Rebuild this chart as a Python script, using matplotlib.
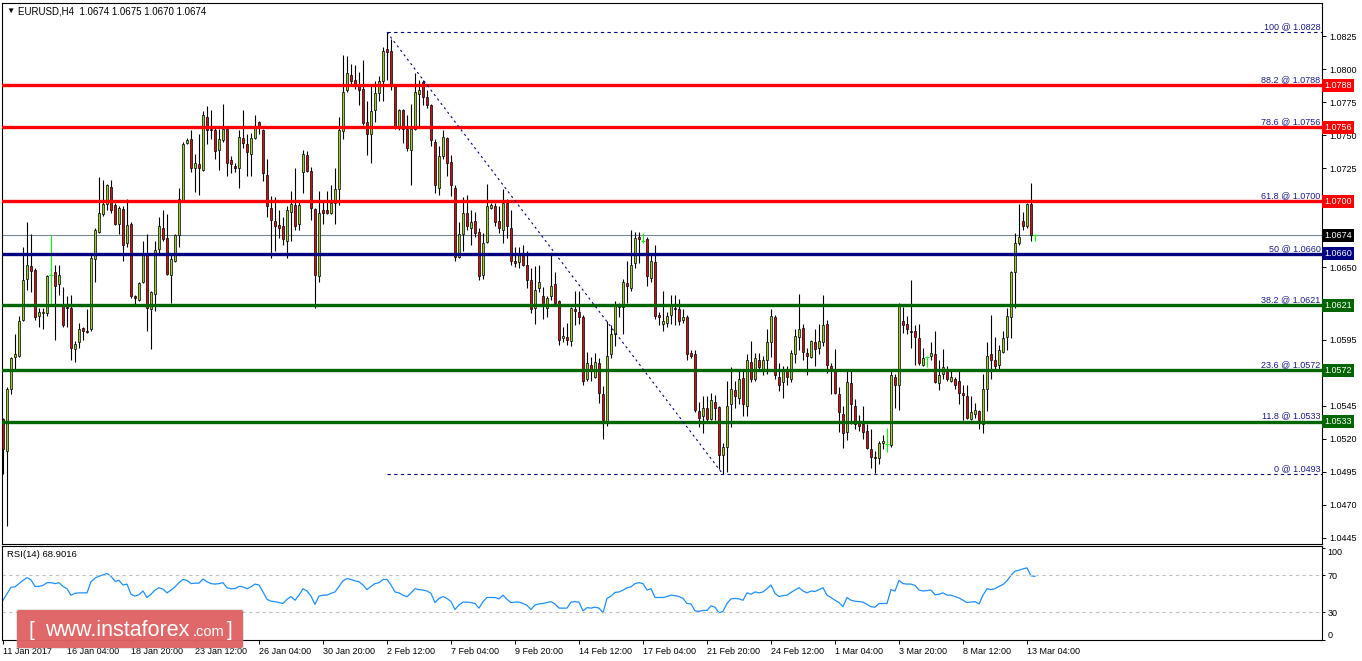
import numpy as np
import matplotlib
matplotlib.use("Agg")
import matplotlib.pyplot as plt
from matplotlib.patches import FancyBboxPatch

plt.rcParams['font.family'] = ['Liberation Sans', 'DejaVu Sans']

# EURUSD H4 candles, prices in 1/10000
opens = [10535, 10511, 10558, 10582, 10583, 10610, 10641, 10651, 10648, 10613,
         10615, 10615, 10644, 10646, 10637, 10622, 10620, 10619, 10588, 10593,
         10604, 10602, 10603, 10656, 10677, 10690, 10698, 10711, 10697, 10683,
         10694, 10668, 10683, 10628, 10625, 10639, 10660, 10618, 10630, 10664,
         10680, 10672, 10644, 10655, 10674, 10701, 10744, 10747, 10725, 10728,
         10724, 10764, 10755, 10754, 10739, 10746, 10755, 10731, 10727, 10725,
         10748, 10743, 10736, 10748, 10760, 10754, 10720, 10695, 10685, 10682,
         10681, 10670, 10692, 10697, 10683, 10722, 10735, 10723, 10694, 10643,
         10693, 10693, 10691, 10699, 10709, 10753, 10784, 10796, 10792, 10789,
         10785, 10760, 10751, 10769, 10782, 10791, 10815, 10814, 10788, 10757,
         10769, 10755, 10739, 10755, 10781, 10790, 10779, 10773, 10745, 10710,
         10734, 10748, 10730, 10710, 10658, 10675, 10691, 10680, 10685, 10677,
         10644, 10669, 10695, 10696, 10685, 10678, 10699, 10680, 10655, 10654,
         10661, 10652, 10640, 10619, 10634, 10628, 10619, 10628, 10637, 10624,
         10596, 10597, 10594, 10618, 10616, 10612, 10565, 10576, 10567, 10577,
         10554, 10533, 10584, 10599, 10620, 10620, 10638, 10634, 10653, 10673,
         10670, 10671, 10642, 10654, 10614, 10607, 10608, 10614, 10619, 10618,
         10610, 10612, 10585, 10584, 10541, 10537, 10543, 10535, 10548, 10544,
         10508, 10514, 10546, 10557, 10551, 10566, 10545, 10578, 10565, 10580,
         10573, 10580, 10593, 10612, 10567, 10563, 10571, 10565, 10584, 10597,
         10604, 10585, 10582, 10593, 10589, 10593, 10607, 10575, 10571, 10554,
         10539, 10525, 10562, 10545, 10532, 10531, 10526, 10512, 10506, 10505,
         10517, 10516, 10515, 10567, 10561, 10609, 10607, 10602, 10602, 10596,
         10576, 10582, 10583, 10584, 10562, 10569, 10573, 10564, 10565, 10564,
         10555, 10552, 10535, 10539, 10541, 10531, 10558, 10584, 10580, 10576,
         10586, 10597, 10612, 10646, 10668, 10685, 10681, 10698, 10674]
highs = [10536, 10559, 10582, 10599, 10613, 10665, 10684, 10675, 10649, 10619,
         10619, 10644, 10674, 10652, 10652, 10635, 10628, 10629, 10594, 10608,
         10605, 10618, 10659, 10680, 10718, 10716, 10713, 10716, 10699, 10696,
         10696, 10702, 10684, 10629, 10639, 10670, 10675, 10632, 10670, 10688,
         10693, 10690, 10660, 10675, 10710, 10745, 10748, 10754, 10736, 10751,
         10768, 10772, 10769, 10756, 10755, 10774, 10756, 10734, 10729, 10754,
         10769, 10751, 10752, 10765, 10761, 10755, 10732, 10704, 10703, 10693,
         10688, 10696, 10708, 10725, 10700, 10739, 10738, 10726, 10695, 10708,
         10700, 10708, 10712, 10725, 10764, 10811, 10810, 10804, 10803, 10798,
         10807, 10776, 10789, 10791, 10795, 10817, 10828, 10823, 10789, 10770,
         10770, 10765, 10774, 10797, 10792, 10792, 10784, 10774, 10747, 10742,
         10754, 10749, 10735, 10712, 10684, 10703, 10705, 10693, 10692, 10680,
         10676, 10713, 10699, 10699, 10696, 10709, 10702, 10693, 10665, 10665,
         10667, 10662, 10649, 10651, 10652, 10635, 10628, 10659, 10646, 10625,
         10605, 10608, 10620, 10632, 10632, 10614, 10586, 10582, 10585, 10581,
         10560, 10609, 10606, 10624, 10623, 10641, 10655, 10678, 10677, 10677,
         10676, 10673, 10660, 10667, 10616, 10632, 10616, 10629, 10629, 10626,
         10618, 10614, 10587, 10587, 10548, 10552, 10552, 10555, 10553, 10545,
         10517, 10564, 10574, 10564, 10571, 10571, 10584, 10594, 10585, 10585,
         10583, 10603, 10618, 10614, 10577, 10575, 10575, 10587, 10603, 10630,
         10607, 10589, 10595, 10603, 10607, 10629, 10610, 10577, 10588, 10559,
         10545, 10571, 10571, 10550, 10538, 10545, 10531, 10527, 10511, 10518,
         10523, 10528, 10572, 10569, 10623, 10620, 10613, 10640, 10606, 10607,
         10589, 10583, 10593, 10602, 10580, 10588, 10575, 10573, 10567, 10571,
         10561, 10561, 10552, 10547, 10542, 10569, 10593, 10614, 10597, 10591,
         10602, 10619, 10647, 10676, 10698, 10692, 10699, 10714, 10675]
lows = [10493, 10454, 10554, 10573, 10582, 10609, 10633, 10631, 10610, 10605,
        10603, 10613, 10622, 10595, 10629, 10605, 10605, 10580, 10578, 10589,
        10595, 10600, 10602, 10639, 10676, 10689, 10693, 10691, 10682, 10675,
        10655, 10665, 10627, 10622, 10624, 10638, 10602, 10588, 10617, 10661,
        10670, 10644, 10623, 10654, 10665, 10700, 10743, 10722, 10707, 10705,
        10723, 10743, 10747, 10732, 10724, 10745, 10719, 10721, 10722, 10710,
        10740, 10719, 10719, 10747, 10751, 10715, 10688, 10657, 10662, 10672,
        10667, 10657, 10670, 10678, 10678, 10706, 10722, 10686, 10619, 10639,
        10683, 10690, 10690, 10683, 10697, 10747, 10783, 10789, 10785, 10773,
        10758, 10735, 10729, 10760, 10776, 10776, 10792, 10784, 10755, 10754,
        10744, 10738, 10712, 10754, 10757, 10773, 10771, 10742, 10706, 10705,
        10732, 10719, 10704, 10655, 10657, 10662, 10678, 10667, 10673, 10640,
        10641, 10668, 10694, 10681, 10676, 10668, 10672, 10652, 10650, 10649,
        10651, 10634, 10615, 10607, 10631, 10611, 10612, 10625, 10622, 10591,
        10593, 10591, 10590, 10606, 10607, 10561, 10564, 10564, 10566, 10547,
        10520, 10530, 10581, 10590, 10612, 10599, 10623, 10632, 10649, 10653,
        10668, 10636, 10639, 10611, 10606, 10602, 10605, 10607, 10606, 10606,
        10608, 10580, 10581, 10540, 10529, 10524, 10532, 10534, 10534, 10497,
        10493, 10495, 10529, 10543, 10546, 10537, 10537, 10563, 10564, 10573,
        10568, 10569, 10582, 10565, 10556, 10551, 10561, 10563, 10577, 10587,
        10580, 10568, 10581, 10575, 10584, 10590, 10570, 10554, 10554, 10525,
        10513, 10519, 10531, 10527, 10526, 10520, 10512, 10498, 10494, 10501,
        10512, 10510, 10514, 10543, 10542, 10600, 10599, 10589, 10576, 10576,
        10575, 10574, 10580, 10562, 10557, 10565, 10564, 10563, 10558, 10546,
        10534, 10535, 10534, 10536, 10527, 10524, 10541, 10565, 10573, 10573,
        10585, 10587, 10596, 10619, 10667, 10678, 10680, 10670, 10670]
closes = [10512, 10558, 10581, 10584, 10609, 10640, 10652, 10647, 10612, 10616,
          10616, 10643, 10644, 10636, 10644, 10606, 10619, 10589, 10592, 10603,
          10602, 10601, 10657, 10678, 10691, 10698, 10712, 10693, 10683, 10695,
          10667, 10682, 10628, 10627, 10638, 10661, 10619, 10631, 10663, 10681,
          10671, 10645, 10656, 10674, 10702, 10743, 10746, 10725, 10729, 10725,
          10765, 10754, 10754, 10738, 10747, 10755, 10729, 10728, 10725, 10749,
          10744, 10737, 10748, 10757, 10757, 10721, 10696, 10686, 10681, 10680,
          10671, 10693, 10698, 10681, 10697, 10736, 10723, 10695, 10644, 10691,
          10691, 10691, 10699, 10709, 10754, 10783, 10797, 10791, 10789, 10784,
          10759, 10751, 10768, 10782, 10791, 10814, 10813, 10789, 10756, 10769,
          10755, 10740, 10755, 10783, 10784, 10779, 10773, 10746, 10712, 10734,
          10749, 10729, 10712, 10658, 10675, 10691, 10681, 10684, 10676, 10643,
          10668, 10696, 10697, 10684, 10680, 10699, 10681, 10655, 10653, 10660,
          10652, 10640, 10618, 10633, 10639, 10622, 10627, 10636, 10623, 10595,
          10598, 10595, 10619, 10617, 10612, 10564, 10577, 10573, 10578, 10555,
          10534, 10583, 10599, 10622, 10621, 10639, 10636, 10652, 10672, 10671,
          10670, 10643, 10655, 10613, 10612, 10609, 10613, 10622, 10618, 10609,
          10612, 10584, 10583, 10542, 10536, 10543, 10535, 10549, 10543, 10508,
          10514, 10545, 10558, 10552, 10565, 10546, 10580, 10565, 10581, 10574,
          10580, 10593, 10613, 10568, 10561, 10571, 10567, 10585, 10598, 10603,
          10586, 10583, 10594, 10588, 10594, 10606, 10576, 10573, 10555, 10540,
          10524, 10563, 10546, 10531, 10530, 10525, 10513, 10506, 10505, 10517,
          10518, 10516, 10568, 10561, 10622, 10606, 10603, 10601, 10597, 10577,
          10581, 10582, 10585, 10563, 10568, 10574, 10565, 10567, 10561, 10555,
          10553, 10536, 10540, 10542, 10534, 10558, 10583, 10580, 10575, 10587,
          10596, 10613, 10646, 10668, 10673, 10681, 10698, 10674, 10674]

rsi = [43, 50, 57, 57.5, 61, 64.5, 67.5, 65, 58, 58,
       59, 62, 62, 61, 62, 58, 55.5, 48.5, 50.5, 51,
       51, 51, 63, 67, 69, 70.5, 72, 69, 63.5, 64.5,
       59.5, 60.5, 49.5, 47.5, 49, 53, 46, 49.5, 54, 56.5,
       55, 51, 54, 57.5, 62, 65.5, 64.5, 61, 61.5, 61.5,
       66, 63, 61, 60.5, 61, 62, 56.5, 55.5, 55.5, 58,
       57.5, 55.5, 57.5, 60.5, 59.5, 52, 44, 42, 41.5, 40.5,
       39.5, 44, 47, 43, 48.5, 55.5, 53, 47.5, 38.5, 47.5,
       48.5, 48.5, 50.5, 52, 58, 64, 66.5, 65.5, 64, 63,
       59.5, 54.5, 58, 61, 62, 65.5, 65.5, 59.5, 52, 51,
       48.5, 46.8, 51, 55.5, 54.5, 54, 53, 50.5, 40.5, 45,
       47, 45, 41.5, 33, 38, 41, 41, 40.5, 39.5, 34.5,
       41.5, 46, 46, 46, 44.5, 48.5, 44, 40.5, 41, 41,
       39.5, 37.5, 33, 38, 39, 39.5, 40.5, 41.5, 39, 34.5,
       34.5, 34.5, 41, 41.5, 41, 31.5, 35, 34.5, 35.5, 34.5,
       29.5, 45, 47.5, 51.5, 52, 54, 56.5, 57.5, 61, 62,
       61, 54, 55.5, 46, 46, 46, 47, 48.5, 48, 47,
       45, 39.5, 39, 31.5, 31, 32, 32, 37, 35.5, 29.5,
       31, 39.5, 44.5, 45, 44.5, 43, 51, 49.5, 52, 51,
       52, 55.5, 59.5, 50.5, 47, 48, 48.5, 51.5, 54, 56.5,
       53, 51, 53, 52.5, 54.5, 56.5, 48.5, 46, 43, 40.5,
       36, 46, 43, 42, 41.5, 41, 38.5, 36, 35.5, 39.5,
       39.5, 39.5, 54.5, 53, 64.5, 61, 60.5, 60.5, 59, 54,
       53, 53.5, 54, 49, 49.5, 51, 48.5, 48.5, 47, 45.5,
       43, 40.5, 41, 41.5, 39, 48.5, 55.5, 54.5, 55.5, 58,
       60, 64, 70, 74.5, 75.5, 77, 78, 69.5, 68.9016]

time_labels = ['11 Jan 2017', '16 Jan 04:00', '18 Jan 20:00', '23 Jan 12:00',
               '26 Jan 04:00', '30 Jan 20:00', '2 Feb 12:00', '7 Feb 04:00',
               '9 Feb 20:00', '14 Feb 12:00', '17 Feb 04:00', '21 Feb 20:00',
               '24 Feb 12:00', '1 Mar 04:00', '3 Mar 20:00', '8 Mar 12:00',
               '13 Mar 04:00']

fib_levels = [100, 88.2, 78.6, 61.8, 50, 38.2, 23.6, 11.8, 0]
fib_prices = [1.0828, 1.0788, 1.0756, 1.0700, 1.0660, 1.0621, 1.0572, 1.0533, 1.0493]
fib_high_bar = 96   # bar of the swing high
fib_low_bar = 180   # bar of the swing low

price_ticks = [1.0825, 1.0800, 1.0775, 1.0750, 1.0725, 1.0650,
               1.0595, 1.0545, 1.0520, 1.0495, 1.0470, 1.0445]
last_price = 1.0674
header = 'EURUSD,H4  1.0674 1.0675 1.0670 1.0674'

# ---------------------------------------------------------------
o = np.array(opens) / 1e4
h = np.array(highs) / 1e4
l = np.array(lows) / 1e4
c = np.array(closes) / 1e4
n = len(c)
x = np.arange(n)
xmax = 329.75

navy = '#000080'
level_colors = {100: None, 88.2: '#ff0000', 78.6: '#ff0000', 61.8: '#ff0000',
                50: '#000080', 38.2: '#006400', 23.6: '#006400', 11.8: '#006400', 0: None}

fig = plt.figure(figsize=(13.62, 6.61), dpi=100)
W, H = 1362, 661
ax = fig.add_axes([2 / W, (H - 544) / H, 1320 / W, 541 / H])
ax2 = fig.add_axes([2 / W, (H - 640) / H, 1320 / W, 94 / H])

for a in (ax, ax2):
    for s in a.spines.values():
        s.set_linewidth(0.8)
        s.set_color('black')

doji = o == c
up = c > o
dn = c < o

# wicks
ax.vlines(x[~doji], l[~doji], h[~doji], color='black', lw=0.8, zorder=2)
# bodies
ax.bar(x[up], (c - o)[up], bottom=o[up], width=0.62, color='#9acd32',
       edgecolor='black', linewidth=0.5, zorder=3)
ax.bar(x[dn], (o - c)[dn], bottom=c[dn], width=0.62, color='#d01010',
       edgecolor='black', linewidth=0.5, zorder=3)
# doji candles in lime
ax.vlines(x[doji], l[doji], h[doji], color='#00ff00', lw=0.8, zorder=3)
ax.hlines(c[doji], x[doji] - 0.4, x[doji] + 0.4, color='#00ff00', lw=0.8, zorder=3)

# current price line
ax.axhline(last_price, color='#778899', lw=0.8, zorder=1.5)

# fibonacci levels
for lvl, p in zip(fib_levels, fib_prices):
    col = level_colors[lvl]
    if col is None:
        ax.hlines(p, fib_high_bar, xmax, colors=navy, lw=0.8,
                  linestyles=(0, (3, 3)), zorder=4)
    else:
        ax.axhline(p, color=col, lw=2.4, zorder=4)
    ax.annotate(f'{lvl:g} @ {p:.4f}', xy=(xmax, p), xytext=(-1, 0.8),
                textcoords='offset points', ha='right', va='bottom',
                fontsize=6.5, color='#1c1c8c', zorder=6)
ax.plot([fib_high_bar, fib_low_bar], [fib_prices[0], fib_prices[-1]],
        color=navy, lw=0.8, ls=(0, (2, 3)), zorder=4)

ax.set_xlim(-0.25, xmax)
ax.set_ylim(1.04402, 1.08502)
ax.set_xticks([])
ax.yaxis.tick_right()
ax.set_yticks(price_ticks)
ax.set_yticklabels([f'{t:.4f}' for t in price_ticks])
ax.tick_params(axis='y', length=3, width=0.7, pad=2, labelsize=6.5)

# price boxes on the right scale
for lvl, p in zip(fib_levels, fib_prices):
    col = level_colors[lvl]
    if col is None:
        continue
    ax.annotate(f'{p:.4f}', xy=(1, p), xycoords=('axes fraction', 'data'),
                xytext=(1.5, 0), textcoords='offset points', ha='left', va='center',
                fontsize=6.5, color='white', annotation_clip=False, zorder=10,
                bbox=dict(boxstyle='square,pad=0.22', fc=col, ec='none'))
ax.annotate(f'{last_price:.4f}', xy=(1, last_price), xycoords=('axes fraction', 'data'),
            xytext=(1.5, 0), textcoords='offset points', ha='left', va='center',
            fontsize=6.5, color='white', annotation_clip=False, zorder=10,
            bbox=dict(boxstyle='square,pad=0.22', fc='black', ec='none'))

ax.text(0.0035, 0.991, '\u25bc', transform=ax.transAxes, fontsize=6,
        va='top', ha='left')
ax.text(0.012, 0.993, header, transform=ax.transAxes, fontsize=7,
        va='top', ha='left')

# RSI panel
ax2.plot(x, rsi, color='#1e90ff', lw=0.9)
ax2.axhline(70, color='#c0c0c0', lw=0.8, ls=(0, (3, 3)))
ax2.axhline(30, color='#c0c0c0', lw=0.8, ls=(0, (3, 3)))
ax2.set_xlim(-0.25, xmax)
ax2.set_ylim(0, 101.7)
ax2.yaxis.tick_right()
ax2.set_yticks([0, 30, 70, 100])
ax2.set_yticklabels(['0', '30', '70', '100'])
ax2.tick_params(axis='y', length=2, width=0.7, pad=2, labelsize=6.5)
ylabs = ax2.get_yticklabels()
ylabs[0].set_va('bottom')
ylabs[3].set_va('top')
ax2.set_xticks(list(range(0, n, 16)))
ax2.set_xticklabels(time_labels)
ax2.tick_params(axis='x', length=3, width=0.7, pad=2, labelsize=6.5)
for lb in ax2.get_xticklabels():
    lb.set_ha('left')
ax2.text(0.004, 0.905, f'RSI(14) {rsi[-1]:.4f}', transform=ax2.transAxes,
         fontsize=6.8, va='center', ha='left')

# instaforex watermark
shadow = FancyBboxPatch((16 / W, (H - 649) / H), 228 / W, 40 / H,
                        boxstyle='round,pad=0,rounding_size=0.002',
                        transform=fig.transFigure, fc='#b0b0b0', ec='none',
                        alpha=0.35, zorder=5)
fig.add_artist(shadow)
logo = FancyBboxPatch((17 / W, (H - 648) / H), 226 / W, 38 / H,
                      boxstyle='round,pad=0,rounding_size=0.002',
                      transform=fig.transFigure, fc='#e06163', ec='none',
                      alpha=0.95, zorder=6)
fig.add_artist(logo)
base = (H - 636) / H
fig.text(29 / W, base, '[', color='white', fontsize=15, zorder=7, va='baseline')
fig.text(45 / W, base, 'www.instaforex', color='white', fontsize=15.5, zorder=7,
         va='baseline')
fig.text(193 / W, base, '.com', color='white', fontsize=10.5, zorder=7, va='baseline')
fig.text(227 / W, base, ']', color='white', fontsize=15, zorder=7, va='baseline')

fig.savefig('out.png', dpi=100)
